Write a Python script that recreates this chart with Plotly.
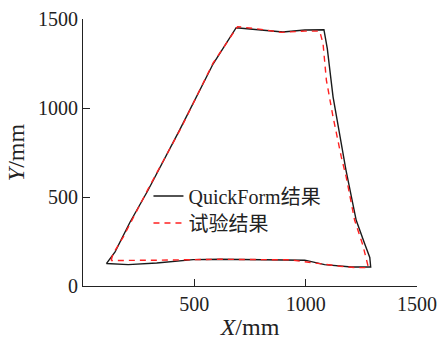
import plotly.graph_objects as go

# QuickForm result (black solid)
qf_x = [105, 144, 211, 292, 436, 584, 688, 816, 898, 996, 1082, 1097, 1123, 1181, 1227, 1265, 1288, 1292,
        1205, 1085, 996, 615, 495, 331, 203, 105]
qf_y = [126, 192, 358, 538, 881, 1247, 1451, 1434, 1427, 1438, 1440, 1335, 1063, 651, 369, 238, 160, 107,
        107, 120, 145, 150, 148, 129, 120, 126]

# Test result (red dashed)
test_x = [126, 135, 181, 292, 440, 584, 694, 801, 891, 996, 1063, 1078, 1093, 1123, 1160, 1182, 1220, 1257,
          1282, 1229, 1154, 1055, 930, 615, 494, 331, 126]
test_y = [143, 180, 276, 544, 887, 1252, 1457, 1442, 1425, 1432, 1432, 1363, 1157, 950, 725, 613, 369, 229,
          103, 103, 111, 126, 147, 150, 147, 145, 143]

x_ticks = [500, 1000, 1500]
y_ticks = [0, 500, 1000, 1500]

font_family = "Liberation Serif, Times New Roman, Noto Sans CJK SC, serif"

fig = go.Figure()
fig.add_trace(go.Scatter(x=qf_x, y=qf_y, mode="lines", name="QuickForm结果",
                         line=dict(color="#1a1a1a", width=1.4), legend="legend"))
fig.add_trace(go.Scatter(x=test_x, y=test_y, mode="lines", name="试验结果",
                         line=dict(color="#ff2020", width=1.4, dash="6px,5px"), legend="legend2"))

leg_common = dict(xanchor="left", yanchor="top", bgcolor="rgba(0,0,0,0)", borderwidth=0,
                  font=dict(size=20))

fig.update_layout(
    width=438, height=340,
    margin=dict(l=83, r=21, t=19, b=54),
    paper_bgcolor="white", plot_bgcolor="white",
    font=dict(family=font_family, size=20, color="#222"),
    showlegend=True,
    legend=dict(x=0.196, y=0.41, **leg_common),
    legend2=dict(x=0.196, y=0.309, **leg_common),
    xaxis=dict(range=[0, 1500], tickvals=x_ticks, ticks="inside", ticklen=7,
               tickcolor="#222", showline=True, linecolor="#222", linewidth=1.2,
               showgrid=False, zeroline=False, automargin=False,
               title=dict(text="<i>X</i>/mm", standoff=4)),
    yaxis=dict(range=[0, 1500], tickvals=y_ticks, ticks="inside", ticklen=7,
               tickcolor="#222", showline=True, linecolor="#222", linewidth=1.2,
               showgrid=False, zeroline=False, automargin=False,
               title=dict(text="<i>Y</i>/mm", standoff=6)),
)

fig.write_html("out.html", config={"displayModeBar": False},
               post_script="document.body.style.margin='0';document.body.style.overflow='hidden';")
